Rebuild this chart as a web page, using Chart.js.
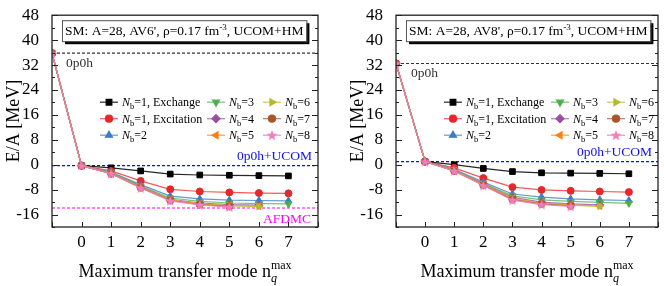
<!DOCTYPE html>
<html>
<head>
<meta charset="utf-8">
<script src="https://cdn.jsdelivr.net/npm/chart.js@4/dist/chart.umd.min.js"></script>
<style>
  body { margin: 0; background: #fff; }
  #wrap { position: relative; width: 664px; height: 286px; }
  canvas { position: absolute; top: 0; }
</style>
</head>
<body>
<div id="wrap">
  <canvas id="left" width="332" height="286" style="left:0"></canvas>
  <canvas id="right" width="332" height="286" style="left:332px"></canvas>
</div>
<script>
// x values (maximum transfer mode), -1 is the bare 0p0h point
const nq = [-1, 0, 1, 2, 3, 4, 5, 6, 7];
const xTickLabels = [0, 1, 2, 3, 4, 5, 6, 7];

// left panel: AV6'
const av6Exchange   = [35.8, -0.3, -1.0, -2.0, -3.0, -3.3, -3.4, -3.5, -3.6];
const av6Excitation = [35.8, -0.3, -2.0, -5.2, -7.9, -8.6, -8.9, -9.1, -9.2];
const av6Nb2 = [35.8, -0.3, -2.4, -6.4, -10.1, -11.0, -11.4, -11.5, -11.6];
const av6Nb3 = [35.8, -0.3, -2.6, -6.8, -10.7, -11.8, -12.3, -12.5, -12.6];
const av6Nb4 = [35.8, -0.3, -2.7, -7.0, -11.1, -12.3, -12.8, -13.0];
const av6Nb5 = [35.8, -0.3, -2.8, -7.2, -11.3, -12.6, -13.1, -13.3];
const av6Nb6 = [35.8, -0.3, -2.8, -7.3, -11.4, -12.7, -13.2, -13.4];
const av6Nb7 = [35.8, -0.3, -2.9, -7.4, -11.5, -12.8, -13.4];
const av6Nb8 = [35.8, -0.3, -2.9, -7.5, -11.6, -12.9, -13.6];
const av6P0h = 35.8, av6Ucom = -0.3, av6Afdmc = -13.9;

// right panel: AV8'
const av8Exchange   = [32.5, 1.0, 0.0, -1.2, -2.2, -2.6, -2.7, -2.8, -2.9];
const av8Excitation = [32.5, 1.0, -1.0, -4.3, -7.2, -8.1, -8.4, -8.6, -8.8];
const av8Nb2 = [32.5, 1.0, -1.5, -5.6, -9.4, -10.4, -11.0, -11.3, -11.5];
const av8Nb3 = [32.5, 1.0, -1.7, -6.0, -10.0, -11.3, -11.8, -12.1, -12.4];
const av8Nb4 = [32.5, 1.0, -1.8, -6.2, -10.5, -12.0, -12.6, -12.9];
const av8Nb5 = [32.5, 1.0, -1.9, -6.4, -10.8, -12.3, -12.9, -13.3];
const av8Nb6 = [32.5, 1.0, -1.9, -6.5, -11.0, -12.5, -13.1, -13.3];
const av8Nb7 = [32.5, 1.0, -2.0, -6.6, -11.2, -12.6, -13.2];
const av8Nb8 = [32.5, 1.0, -2.0, -6.7, -11.4, -12.8, -13.4];
const av8P0h = 32.5, av8Ucom = 1.0;

const legendLabels = ['=1, Exchange', '=1, Excitation', '=2', '=3', '=4', '=5', '=6', '=7', '=8'];

const serif = "'Liberation Serif', 'DejaVu Serif', serif";

function starImage(color) {
  const c = document.createElement('canvas');
  c.width = 12; c.height = 12;
  const g = c.getContext('2d');
  g.fillStyle = color;
  g.beginPath();
  for (let i = 0; i < 10; i++) {
    const r = i % 2 ? 2.4 : 5.6;
    const a = -Math.PI / 2 + i * Math.PI / 5;
    const px = 6 + r * Math.cos(a), py = 6.4 + r * Math.sin(a);
    if (i) g.lineTo(px, py); else g.moveTo(px, py);
  }
  g.closePath();
  g.fill();
  return c;
}

const styles = [
  { color: '#000000', line: 'rgba(0,0,0,0.85)',       style: 'rect',     rot: 0,   r: 4 },
  { color: '#e8262b', line: 'rgba(240,60,64,0.85)',   style: 'circle',   rot: 0,   r: 3.5 },
  { color: '#3d7ebf', line: 'rgba(70,135,200,0.85)',  style: 'triangle', rot: 0,   r: 4 },
  { color: '#4fae4a', line: 'rgba(95,185,90,0.85)',   style: 'triangle', rot: 180, r: 4 },
  { color: '#9a4ea3', line: 'rgba(165,95,175,0.85)',  style: 'rectRot',  rot: 0,   r: 4 },
  { color: '#ff7f0e', line: 'rgba(255,140,40,0.85)',  style: 'triangle', rot: -90, r: 4 },
  { color: '#b8b828', line: 'rgba(190,190,60,0.85)',  style: 'triangle', rot: 90,  r: 4 },
  { color: '#a65628', line: 'rgba(175,100,60,0.85)',  style: 'circle',   rot: 0,   r: 3.5 },
  { color: '#f07eba', line: 'rgba(242,130,190,0.9)',  style: starImage('#f07eba'), rot: 0, r: 5 }
];

// draw a run of text pieces, returns end x
function drawRich(ctx, parts, x, y, measureOnly) {
  for (const p of parts) {
    ctx.font = (p.italic ? 'italic ' : '') + p.size + 'px ' + serif;
    if (!measureOnly) ctx.fillText(p.t, x, y + (p.dy || 0));
    if (!p.noAdvance) x += ctx.measureText(p.t).width;
  }
  return x;
}

function makePanel(id, series, opts) {
  const datasets = series.map((vals, i) => {
    const s = styles[i];
    return {
      data: vals.map((v, k) => ({ x: nq[k], y: v })),
      order: series.length - i,   // later series drawn on top
      borderColor: s.line,
      backgroundColor: s.color,
      borderWidth: 1.2,
      pointStyle: s.style,
      pointRotation: s.rot,
      pointRadius: s.r,
      pointBackgroundColor: s.color,
      pointBorderColor: s.color,
      pointBorderWidth: 1,
      showLine: true,
      tension: 0
    };
  });

  const panelPlugin = {
    id: 'panel_' + id,
    beforeDatasetsDraw(chart) {
      const ctx = chart.ctx, a = chart.chartArea, ys = chart.scales.y;
      ctx.save();
      ctx.lineWidth = 1.2;
      ctx.setLineDash([3, 2]);
      for (const ref of opts.refs) {
        const py = ys.getPixelForValue(ref.v);
        ctx.strokeStyle = ref.color;
        ctx.beginPath();
        ctx.moveTo(a.left, py);
        ctx.lineTo(a.right, py);
        ctx.stroke();
      }
      ctx.restore();
    },
    afterDraw(chart) {
      const ctx = chart.ctx, a = chart.chartArea, ys = chart.scales.y, xs = chart.scales.x;
      ctx.save();
      // frame
      ctx.strokeStyle = '#222';
      ctx.lineWidth = 1.3;
      ctx.strokeRect(a.left, a.top, a.right - a.left, a.bottom - a.top);
      // inward ticks
      ctx.lineWidth = 1;
      ctx.beginPath();
      ys.ticks.forEach(t => {
        const py = Math.round(ys.getPixelForValue(t.value)) + 0.5;
        const len = t.value % 8 === 0 ? 6 : 3;
        ctx.moveTo(a.left, py); ctx.lineTo(a.left + len, py);
        ctx.moveTo(a.right, py); ctx.lineTo(a.right - len, py);
      });
      xs.ticks.forEach(t => {
        const px = Math.round(xs.getPixelForValue(t.value)) + 0.5;
        ctx.moveTo(px, a.bottom); ctx.lineTo(px, a.bottom - 5);
      });
      ctx.stroke();

      // reference line labels
      ctx.textBaseline = 'middle';
      for (const ref of opts.refs) {
        const py = ys.getPixelForValue(ref.v);
        ctx.fillStyle = ref.color;
        ctx.font = '13.5px ' + serif;
        ctx.textAlign = ref.align;
        const px = ref.align === 'left' ? a.left + ref.dx : a.right - ref.dx;
        ctx.fillText(ref.text, px, py + ref.dy);
      }
      ctx.textAlign = 'left';
      ctx.textBaseline = 'alphabetic';

      // title box
      const titleParts = [
        { t: 'SM: A=28, ' + opts.pot + ', \u03c1=0.17 fm', size: 13.5 },
        { t: '-3', size: 9, dy: -5 },
        { t: ', UCOM+HM', size: 13.5 }
      ];
      const tw = drawRich(ctx, titleParts, 0, 0, true);
      const bx = a.left + 10, by = a.top + 5, bw = tw + 6, bh = 21;
      ctx.fillStyle = '#000';
      ctx.fillRect(bx + 3, by + 3, bw, bh);
      ctx.fillStyle = '#fff';
      ctx.fillRect(bx, by, bw, bh);
      ctx.strokeStyle = '#555';
      ctx.lineWidth = 1;
      ctx.strokeRect(bx + 0.5, by + 0.5, bw, bh);
      ctx.fillStyle = '#000';
      drawRich(ctx, titleParts, bx + 3, by + 15);

      // legend, column by column
      const colX = [48, 155, 211];
      const rowY = [87, 103.5, 120];
      styles.forEach((s, i) => {
        const x0 = a.left + colX[Math.floor(i / 3)];
        const y0 = a.top + rowY[i % 3];
        ctx.strokeStyle = s.line;
        ctx.lineWidth = 1.2;
        ctx.beginPath();
        ctx.moveTo(x0, y0); ctx.lineTo(x0 + 18, y0);
        ctx.stroke();
        ctx.fillStyle = s.color;
        ctx.strokeStyle = s.color;
        Chart.helpers.drawPoint(ctx, { pointStyle: s.style, rotation: s.rot, radius: s.r, borderWidth: 1 }, x0 + 9, y0);
        ctx.fillStyle = '#000';
        drawRich(ctx, [
          { t: 'N', size: 12, italic: true },
          { t: 'b', size: 8.5, dy: 3 },
          { t: legendLabels[i], size: 12 }
        ], x0 + 22, y0 + 4);
      });

      // x axis title with n_q^max
      ctx.fillStyle = '#000';
      ctx.font = '18px ' + serif;
      const base = 'Maximum transfer mode n';
      const w1 = ctx.measureText(base).width;
      ctx.font = '12px ' + serif;
      const w2 = ctx.measureText('max').width;
      const cx = (a.left + a.right) / 2;
      const x1 = cx - (w1 + w2) / 2;
      const yb = 277;
      drawRich(ctx, [
        { t: base, size: 18 },
        { t: 'max', size: 12, dy: -8, noAdvance: true },
        { t: 'q', size: 12, italic: true, dy: 5 }
      ], x1, yb);
      ctx.restore();
    }
  };

  return new Chart(document.getElementById(id), {
    type: 'line',
    data: { datasets },
    options: {
      responsive: false,
      animation: false,
      devicePixelRatio: 1,
      layout: { padding: { left: opts.padLeft, right: opts.padRight, top: 14, bottom: 0 } },
      plugins: { legend: { display: false }, tooltip: { enabled: false } },
      scales: {
        x: {
          type: 'linear',
          min: -1, max: 8,
          grid: { display: false },
          border: { display: false },
          ticks: {
            stepSize: 1, autoSkip: false, maxRotation: 0, padding: -3,
            color: '#000', font: { family: serif, size: 17 },
            callback: v => xTickLabels.includes(v) ? String(v) : ''
          },
          afterFit: s => { s.height = 59; }
        },
        y: {
          min: -20, max: 48,
          grid: { display: false },
          border: { display: false },
          title: { display: true, text: 'E/A [MeV]', color: '#000', font: { family: serif, size: 18 }, padding: { top: 3, bottom: 0 } },
          ticks: {
            stepSize: 4, autoSkip: false, padding: 5,
            color: '#000', font: { family: serif, size: 17 },
            callback: v => v % 8 === 0 ? String(v) : ''
          },
          afterFit: s => { s.width = 52; }
        }
      }
    },
    plugins: [panelPlugin]
  });
}

makePanel('left',
  [av6Exchange, av6Excitation, av6Nb2, av6Nb3, av6Nb4, av6Nb5, av6Nb6, av6Nb7, av6Nb8],
  {
    pot: "AV6'", padLeft: 0, padRight: 14,
    refs: [
      { v: av6P0h, color: '#333', text: '0p0h', align: 'left', dx: 14, dy: 10 },
      { v: av6Ucom, color: '#1010ee', text: '0p0h+UCOM', align: 'right', dx: 6, dy: -9 },
      { v: av6Afdmc, color: '#ff00ff', text: 'AFDMC', align: 'right', dx: 7, dy: 11.5 }
    ]
  });

makePanel('right',
  [av8Exchange, av8Excitation, av8Nb2, av8Nb3, av8Nb4, av8Nb5, av8Nb6, av8Nb7, av8Nb8],
  {
    pot: "AV8'", padLeft: 12, padRight: 2,
    refs: [
      { v: av8P0h, color: '#333', text: '0p0h', align: 'left', dx: 15, dy: 10 },
      { v: av8Ucom, color: '#1010ee', text: '0p0h+UCOM', align: 'right', dx: 6, dy: -9.5 }
    ]
  });
</script>
</body>
</html>
